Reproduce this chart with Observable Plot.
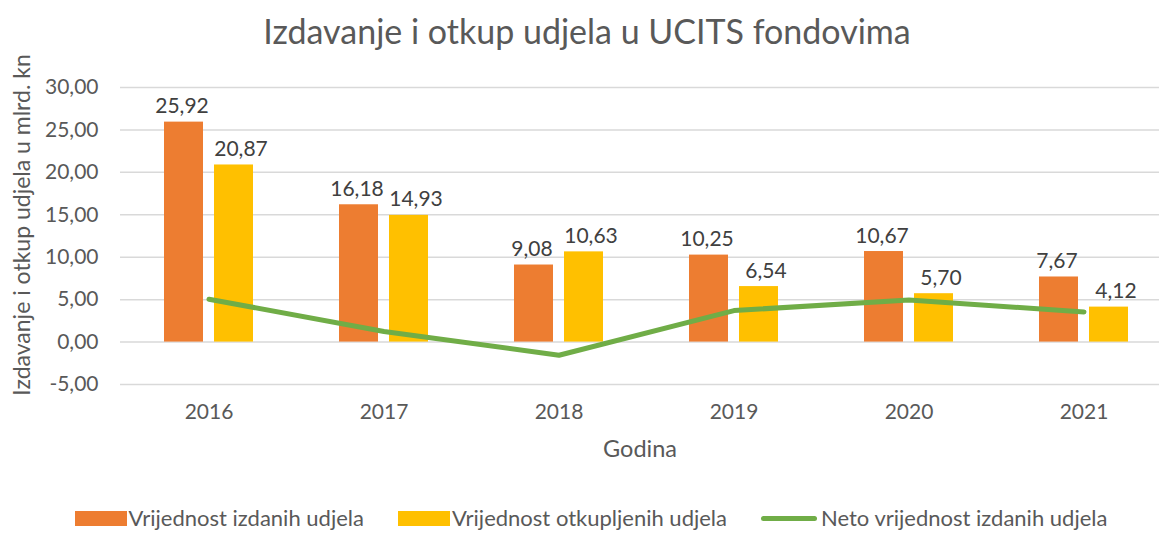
<!DOCTYPE html>
<html>
<head>
<meta charset="utf-8">
<script src="https://cdn.jsdelivr.net/npm/d3@7"></script>
<script src="https://cdn.jsdelivr.net/npm/@observablehq/plot@0.6"></script>
<style>
  html, body { margin: 0; padding: 0; background: #fff; }
  #wrap { position: relative; width: 1159px; height: 534px; overflow: hidden; font-family: Lato, "Open Sans", sans-serif; }
  #title { position: absolute; top: 10px; left: 0; width: 1174px; text-align: center; font-size: 34px; color: #595959; }
  #ylab { position: absolute; left: 21px; top: 225px; transform: translate(-50%, -50%) rotate(-90deg); white-space: nowrap; font-size: 23px; color: #595959; }
  #legend { position: absolute; top: 505px; left: 0; width: 1182px; display: flex; justify-content: center; gap: 34px; font-size: 22px; line-height: 26px; color: #595959; }
  #legend .item { display: flex; align-items: center; }
  #legend .sw { display: inline-block; width: 52px; height: 15px; margin-right: 2px; }
  #legend .ln { display: inline-block; width: 56px; height: 5px; border-radius: 3px; margin-right: 4px; }
  #chart { position: absolute; top: 0; left: 0; }
</style>
</head>
<body>
<div id="wrap">
  <div id="chart"></div>
  <div id="title">Izdavanje i otkup udjela u UCITS fondovima</div>
  <div id="ylab">Izdavanje i otkup udjela u mlrd. kn</div>
  <div id="legend"></div>
</div>
<script>
const years = ["2016", "2017", "2018", "2019", "2020", "2021"];
const issued = [25.92, 16.18, 9.08, 10.25, 10.67, 7.67];
const redeemed = [20.87, 14.93, 10.63, 6.54, 5.70, 4.12];
const net = [5.05, 1.25, -1.55, 3.71, 4.97, 3.55];
const yTicks = [-5, 0, 5, 10, 15, 20, 25, 30];
const seriesNames = ["Vrijednost izdanih udjela", "Vrijednost otkupljenih udjela", "Neto vrijednost izdanih udjela"];
const colors = ["#ED7D31", "#FFC000", "#70AD47"];

const fmt = d => d.toFixed(2).replace(".", ",");
const issuedData = years.map((y, i) => ({year: y, value: issued[i]}));
const redeemedData = years.map((y, i) => ({year: y, value: redeemed[i]}));
const netData = years.map((y, i) => ({year: y, value: net[i]}));

const chart = Plot.plot({
  width: 1159,
  height: 534,
  marginLeft: 120,
  marginRight: 0,
  marginTop: 87,
  marginBottom: 150,
  style: {fontFamily: "Lato, 'Open Sans', sans-serif", fontSize: "21px", color: "#595959", background: "transparent"},
  x: {domain: years, range: [120, 1172], padding: 0},
  y: {domain: [-5, 30], ticks: yTicks},
  marks: [
    Plot.ruleY(yTicks, {stroke: "#D9D9D9", strokeWidth: 1.5}),
    Plot.axisY({ticks: yTicks, tickSize: 0, tickPadding: 22, tickFormat: fmt, label: null, fontSize: 21, fill: "#595959"}),
    Plot.axisX({tickSize: 0, tickPadding: 20, label: null, fontSize: 21, fill: "#595959"}),
    Plot.barY(issuedData, {x: "year", y: "value", fill: colors[0], insetLeft: 43, insetRight: 93}),
    Plot.barY(redeemedData, {x: "year", y: "value", fill: colors[1], insetLeft: 93, insetRight: 43}),
    Plot.line(netData, {x: "year", y: "value", stroke: colors[2], strokeWidth: 5, strokeLinecap: "round", strokeLinejoin: "round"}),
    Plot.text(issuedData, {x: "year", y: "value", text: d => fmt(d.value), dx: -27, dy: -9, lineAnchor: "bottom", fill: "#404040", fontSize: 21}),
    Plot.text(redeemedData, {x: "year", y: "value", text: d => fmt(d.value), dx: 32, dy: -9, lineAnchor: "bottom", fill: "#404040", fontSize: 21}),
    Plot.text(["Godina"], {frameAnchor: "bottom", dy: 72, fontSize: 23.5, fill: "#595959"})
  ]
});
document.getElementById("chart").appendChild(chart);

const legend = document.getElementById("legend");
seriesNames.forEach((name, i) => {
  const item = document.createElement("div");
  item.className = "item";
  const sw = document.createElement("span");
  sw.className = i === 2 ? "ln" : "sw";
  sw.style.background = colors[i];
  const t = document.createElement("span");
  t.textContent = name;
  item.appendChild(sw);
  item.appendChild(t);
  legend.appendChild(item);
});
</script>
</body>
</html>
